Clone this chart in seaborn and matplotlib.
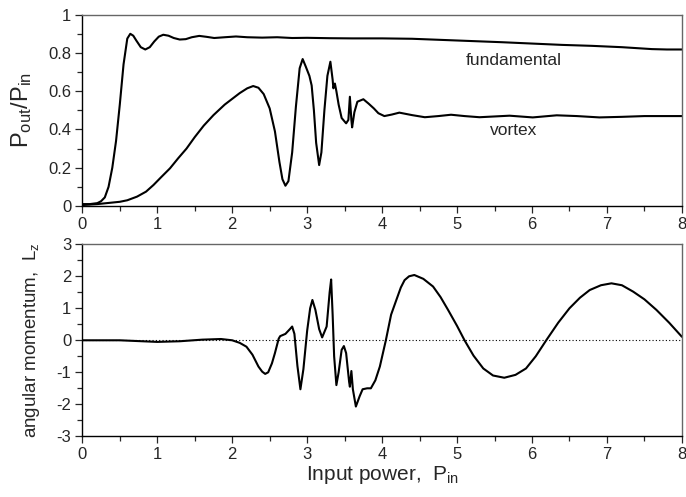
import numpy as np
import pandas as pd
import seaborn as sns
import matplotlib
matplotlib.use("Agg")
import matplotlib.pyplot as plt
from matplotlib.ticker import MultipleLocator, FuncFormatter

# fundamental beam, P_out/P_in vs P_in
fund_x = [0.0, 0.1, 0.2, 0.25, 0.3, 0.35, 0.4, 0.45, 0.5, 0.55, 0.6, 0.64, 0.68, 0.72,
          0.78, 0.84, 0.9, 0.96, 1.02, 1.08, 1.15, 1.22, 1.3, 1.38, 1.46, 1.56, 1.66,
          1.76, 1.9, 2.05, 2.2, 2.4, 2.6, 2.8, 3.0, 3.3, 3.6, 4.0, 4.4, 4.8, 5.2, 5.6,
          6.0, 6.4, 6.8, 7.2, 7.6, 7.8, 8.0]
fund_y = [0.010, 0.010, 0.015, 0.025, 0.045, 0.10, 0.20, 0.34, 0.53, 0.74, 0.875, 0.900,
          0.89, 0.865, 0.83, 0.818, 0.83, 0.86, 0.885, 0.895, 0.89, 0.878, 0.870, 0.872,
          0.882, 0.889, 0.884, 0.878, 0.882, 0.886, 0.882, 0.880, 0.882, 0.878, 0.879,
          0.877, 0.876, 0.876, 0.874, 0.868, 0.862, 0.856, 0.849, 0.842, 0.837, 0.830,
          0.820, 0.818, 0.818]

# vortex beam
vort_x = [0.0, 0.2, 0.4, 0.5, 0.6, 0.73, 0.85, 0.95, 1.05, 1.17, 1.28, 1.39, 1.5, 1.62,
          1.75, 1.9, 2.0, 2.1, 2.2, 2.28, 2.35, 2.42, 2.5, 2.57, 2.63, 2.67, 2.71, 2.75,
          2.8, 2.85, 2.9, 2.94, 2.98, 3.03, 3.06, 3.09, 3.12, 3.16, 3.19, 3.23, 3.27,
          3.31, 3.34, 3.35, 3.37, 3.39, 3.42, 3.46, 3.52, 3.55, 3.57, 3.59, 3.60, 3.63,
          3.67, 3.75, 3.82, 3.89, 3.95, 4.03, 4.13, 4.23, 4.4, 4.57, 4.75, 4.92, 5.1,
          5.3, 5.5, 5.7, 6.01, 6.33, 6.6, 6.9, 7.2, 7.5, 8.0]
vort_y = [0.005, 0.01, 0.018, 0.022, 0.03, 0.049, 0.075, 0.11, 0.15, 0.197, 0.25, 0.30,
          0.36, 0.42, 0.475, 0.53, 0.56, 0.59, 0.615, 0.627, 0.618, 0.585, 0.51, 0.39,
          0.23, 0.14, 0.106, 0.13, 0.28, 0.52, 0.72, 0.768, 0.73, 0.68, 0.63, 0.50,
          0.33, 0.214, 0.28, 0.50, 0.68, 0.754, 0.66, 0.615, 0.64, 0.60, 0.53, 0.46,
          0.432, 0.45, 0.571, 0.45, 0.411, 0.49, 0.545, 0.558, 0.535, 0.51, 0.485,
          0.470, 0.478, 0.488, 0.475, 0.464, 0.470, 0.477, 0.470, 0.464, 0.468, 0.472,
          0.463, 0.474, 0.470, 0.463, 0.466, 0.470, 0.470]

# angular momentum L_z
lz_x = [0.0, 0.5, 0.8, 1.0, 1.3, 1.6, 1.85, 2.0, 2.1, 2.19, 2.27, 2.35, 2.40, 2.44, 2.48,
        2.53, 2.57, 2.62, 2.64, 2.71, 2.77, 2.80, 2.83, 2.87, 2.91, 2.95, 3.0, 3.04,
        3.07, 3.11, 3.16, 3.20, 3.26, 3.30, 3.32, 3.34, 3.36, 3.39, 3.42, 3.46, 3.49,
        3.52, 3.56, 3.57, 3.59, 3.61, 3.65, 3.70, 3.74, 3.80, 3.85, 3.91, 3.97, 4.05,
        4.12, 4.19, 4.25, 4.30, 4.36, 4.43, 4.55, 4.68, 4.78, 4.88, 5.0, 5.10, 5.22,
        5.35, 5.48, 5.63, 5.78, 5.92, 6.05, 6.19, 6.35, 6.50, 6.64, 6.77, 6.92, 7.06,
        7.2, 7.35, 7.5, 7.66, 7.83, 8.0]
lz_y = [0.0, 0.0, -0.03, -0.05, -0.03, 0.02, 0.04, 0.0, -0.08, -0.2, -0.45, -0.82,
        -0.98, -1.05, -1.0, -0.72, -0.4, 0.05, 0.13, 0.2, 0.35, 0.43, 0.2, -0.8, -1.53,
        -0.9, 0.3, 1.0, 1.26, 0.95, 0.35, 0.09, 0.43, 1.5, 1.9, 0.8, -0.5, -1.4, -1.0,
        -0.3, -0.18, -0.4, -1.3, -1.45, -0.96, -1.53, -2.07, -1.75, -1.53, -1.5, -1.5,
        -1.25, -0.82, 0.0, 0.8, 1.26, 1.65, 1.88, 2.0, 2.04, 1.92, 1.68, 1.35, 0.95,
        0.45, 0.0, -0.48, -0.88, -1.10, -1.17, -1.08, -0.88, -0.5, 0.0, 0.55, 1.0, 1.33,
        1.57, 1.72, 1.78, 1.72, 1.52, 1.28, 0.95, 0.55, 0.11]

sns.set_style("ticks")
plt.rcParams['font.family'] = ['Liberation Sans', 'DejaVu Sans']
plt.rcParams['mathtext.fontset'] = 'custom'
plt.rcParams['mathtext.rm'] = 'Liberation Sans'
plt.rcParams['mathtext.it'] = 'Liberation Sans'

fig = plt.figure(figsize=(6.86, 4.97), dpi=100)
ax1 = fig.add_axes([0.12, 0.5855, 0.874, 0.385])
ax2 = fig.add_axes([0.12, 0.1221, 0.874, 0.3864])

sns.lineplot(x=fund_x, y=fund_y, ax=ax1, color='black', lw=1.5, sort=False)
sns.lineplot(x=vort_x, y=vort_y, ax=ax1, color='black', lw=1.5, sort=False)
sns.lineplot(x=lz_x, y=lz_y, ax=ax2, color='black', lw=1.5, sort=False)
ax2.axhline(0, color='black', lw=0.8, ls=(0, (1, 2)), zorder=0)

ax1.text(5.75, 0.763, 'fundamental', ha='center', va='center', fontsize=12.5)
ax1.text(5.75, 0.397, 'vortex', ha='center', va='center', fontsize=12.5)

fmt = FuncFormatter(lambda v, p: '%g' % v)
for ax in (ax1, ax2):
    ax.set_xlim(0, 8)
    ax.xaxis.set_major_locator(MultipleLocator(1))
    ax.xaxis.set_minor_locator(MultipleLocator(0.5))
    ax.xaxis.set_major_formatter(fmt)
    ax.yaxis.set_major_formatter(fmt)
    ax.tick_params(which='major', direction='out', length=5, width=0.9, labelsize=12, pad=3)
    ax.tick_params(which='minor', direction='out', length=3.5, width=0.9)
    for s in ('left', 'bottom'):
        ax.spines[s].set_color('black')
        ax.spines[s].set_linewidth(1.0)
    for s in ('top', 'right'):
        ax.spines[s].set_color('#666666')
        ax.spines[s].set_linewidth(1.0)

ax1.set_ylim(0, 1)
ax1.yaxis.set_major_locator(MultipleLocator(0.2))
ax1.yaxis.set_minor_locator(MultipleLocator(0.1))
ax1.set_ylabel(r'P$_{\mathregular{out}}$/P$_{\mathregular{in}}$', fontsize=17)
ax1.yaxis.set_label_coords(-0.08, 0.5)

ax2.set_ylim(-3, 3)
ax2.yaxis.set_major_locator(MultipleLocator(1))
ax2.yaxis.set_minor_locator(MultipleLocator(0.5))
ax2.set_ylabel(r'angular momentum,  L$_{\mathregular{z}}$', fontsize=13.5)
ax2.yaxis.set_label_coords(-0.067, 0.5)
ax2.set_xlabel(r'Input power,  P$_{\mathregular{in}}$', fontsize=15, labelpad=1)

fig.savefig('out.png', dpi=100)
